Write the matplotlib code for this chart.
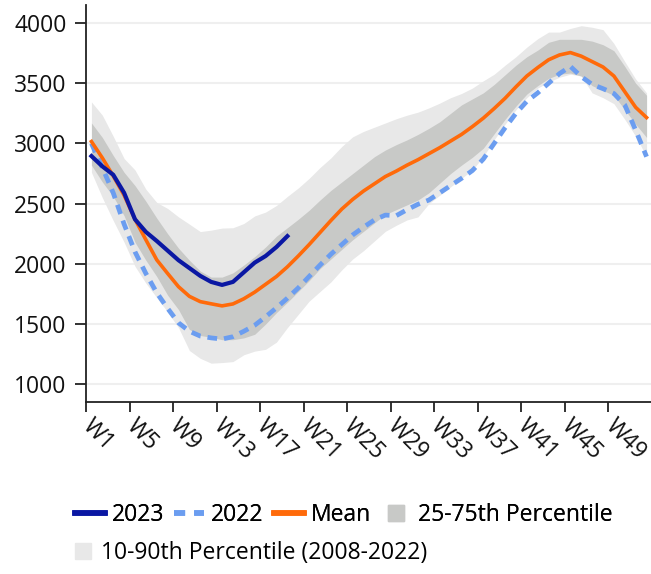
import numpy as np
import matplotlib
matplotlib.use("Agg")
import matplotlib.pyplot as plt
from matplotlib.lines import Line2D

weeks = [f"W{i}" for i in range(1, 53)]
tick_labels = [f"W{i}" for i in range(1, 53, 4)]

y2023 = [2895, 2810, 2740, 2590, 2370, 2265, 2190, 2110, 2030, 1965, 1900, 1850,
         1825, 1850, 1930, 2010, 2065, 2140, 2230]

y2022 = [3000, 2800, 2590, 2330, 2100, 1920, 1760, 1630, 1510, 1440, 1400, 1385,
         1375, 1395, 1440, 1490, 1560, 1635, 1715, 1800, 1895, 1990, 2080, 2160,
         2240, 2305, 2365, 2405, 2400, 2450, 2495, 2530, 2590, 2650, 2710, 2775,
         2870, 3000, 3130, 3250, 3350, 3420, 3500, 3580, 3640, 3555, 3490, 3455,
         3415, 3320, 3110, 2890]

mean = [3016, 2880, 2730, 2570, 2370, 2200, 2033, 1920, 1810, 1730, 1686, 1668,
        1651, 1667, 1710, 1765, 1830, 1895, 1975, 2065, 2160, 2260, 2360, 2455,
        2535, 2605, 2665, 2725, 2770, 2820, 2865, 2915, 2965, 3020, 3075, 3140,
        3210, 3290, 3375, 3470, 3560, 3630, 3695, 3735, 3755, 3725, 3680, 3635,
        3560, 3430, 3300, 3215]

p90 = [3345, 3235, 3060, 2875, 2780, 2620, 2510, 2460, 2390, 2330, 2268, 2280,
       2297, 2300, 2335, 2398, 2430, 2485, 2560, 2630, 2710, 2800, 2880, 2975,
       3055, 3100, 3135, 3170, 3205, 3235, 3260, 3295, 3335, 3380, 3415, 3460,
       3520, 3575, 3650, 3720, 3800, 3870, 3925, 3925, 3955, 3978, 3965, 3945,
       3830, 3680, 3535, 3420]

p75 = [3170, 3050, 2900, 2760, 2650, 2520, 2380, 2250, 2130, 2030, 1940, 1890,
       1890, 1925, 1990, 2060, 2140, 2230, 2300, 2370, 2445, 2530, 2610, 2680,
       2750, 2820, 2890, 2945, 2990, 3030, 3075, 3125, 3180, 3250, 3320, 3370,
       3420, 3490, 3570, 3650, 3720, 3775, 3840, 3865, 3865, 3865, 3850, 3820,
       3770, 3640, 3500, 3400]

p25 = [2820, 2680, 2560, 2400, 2180, 2030, 1895, 1740, 1620, 1455, 1405, 1390,
       1370, 1370, 1385, 1415, 1500, 1595, 1680, 1770, 1860, 1960, 2040, 2120,
       2200, 2270, 2340, 2410, 2450, 2490, 2530, 2590, 2670, 2750, 2820, 2885,
       2960, 3080, 3200, 3310, 3410, 3480, 3540, 3575, 3585, 3560, 3480, 3440,
       3400, 3280, 3160, 3050]

p10 = [2760, 2550, 2360, 2180, 1980, 1840, 1720, 1600, 1470, 1280, 1215, 1175,
       1180, 1188, 1245, 1275, 1290, 1350, 1470, 1580, 1690, 1770, 1850, 1950,
       2040, 2110, 2190, 2270, 2320, 2365, 2390, 2500, 2570, 2640, 2710, 2780,
       2890, 3030, 3160, 3280, 3380, 3460, 3510, 3550, 3575, 3560, 3420, 3380,
       3330, 3200, 3060, 2890]

plt.rcParams['font.family'] = ['Open Sans', 'DejaVu Sans']
plt.rcParams['lines.scale_dashes'] = False

C2023 = '#0a17a3'
C2022 = '#6b9df0'
CMEAN = '#ff6a0a'
CDARK = '#c8c9c7'
CLIGHT = '#e8e8e8'
FS = 16.5

fig = plt.figure(figsize=(6.51, 5.74), dpi=100)
ax = fig.add_axes([86/651, 171.7/574, 566/651, 397.3/574])

x = np.arange(len(weeks)) + 0.5
x23 = x[:len(y2023)]

ax.fill_between(x, p10, p90, color=CLIGHT, lw=0, zorder=1)
ax.fill_between(x, p25, p75, color=CDARK, lw=0, zorder=2)
ax.plot(x, y2022, color=C2022, lw=3.4, dashes=(7, 5), zorder=3)
ax.plot(x, mean, color=CMEAN, lw=2.6, zorder=4)
ax.plot(x23, y2023, color=C2023, lw=3.0, zorder=5)

ax.set_xlim(0, 52)
ax.set_ylim(850, 4150)
ax.set_yticks(range(1000, 4001, 500))
ax.set_xticks(np.arange(0, 52, 4))
ax.set_xticklabels(tick_labels, rotation=-45, ha='left', va='center',
                   rotation_mode='anchor')
ax.grid(axis='y', color='#efefef', lw=1.5, zorder=0)
ax.set_axisbelow(True)
for s in ['top', 'right']:
    ax.spines[s].set_visible(False)
for s in ['left', 'bottom']:
    ax.spines[s].set_linewidth(1.3)
    ax.spines[s].set_color('#222222')
ax.tick_params(axis='y', length=8, width=1.3, pad=6, labelsize=FS,
               colors='#222222', labelcolor='#111111')
ax.tick_params(axis='x', length=7, width=1.3, pad=8, labelsize=FS,
               colors='#222222', labelcolor='#111111')

h1 = [Line2D([], [], color=C2023, lw=4),
      Line2D([], [], color=C2022, lw=4, dashes=(8, 6.5)),
      Line2D([], [], color=CMEAN, lw=4),
      Line2D([], [], color=CDARK, marker='s', ms=12, ls='none')]
l1 = ['2023', '2022', 'Mean', '25-75th Percentile']
leg1 = fig.legend(h1, l1, loc='center left', bbox_to_anchor=(75/651, (574-515)/574),
                  ncol=4, frameon=False, fontsize=FS, handlelength=1.3,
                  handletextpad=0.3, columnspacing=0.45, borderpad=0,
                  borderaxespad=0)
h2 = [Line2D([], [], color=CLIGHT, marker='s', ms=12, ls='none')]
leg2 = fig.legend(h2, ['10-90th Percentile (2008-2022)'], loc='center left',
                  bbox_to_anchor=(75/651, (574-553)/574), frameon=False,
                  fontsize=FS, handlelength=0.7, handletextpad=0.45,
                  borderpad=0, borderaxespad=0)
fig.add_artist(leg1)

fig.savefig('out.png', dpi=100)
